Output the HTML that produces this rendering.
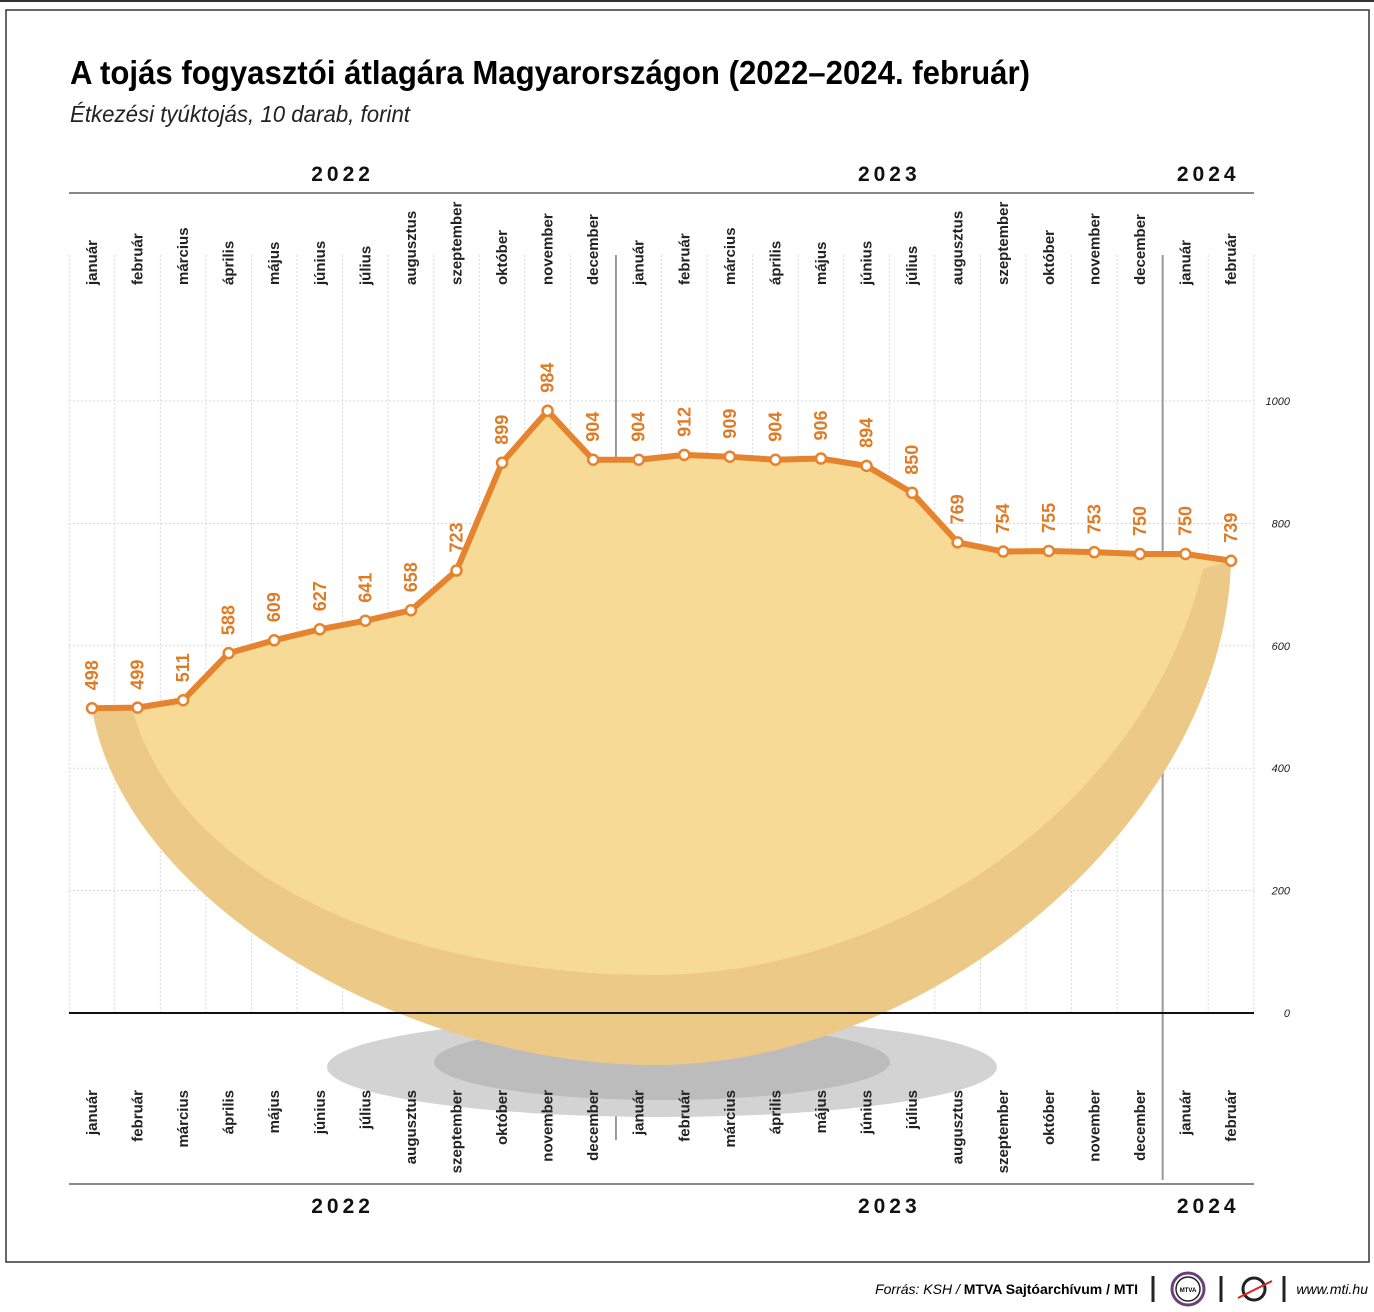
<!DOCTYPE html>
<html><head><meta charset="utf-8"><style>
html,body{margin:0;padding:0;background:#fff;}
svg{display:block;font-family:"Liberation Sans",sans-serif;}
</style></head><body>
<svg id="chart" width="1374" height="1312" viewBox="0 0 1374 1312" xmlns="http://www.w3.org/2000/svg">
<line x1="0" y1="1" x2="1374" y2="1" stroke="#333" stroke-width="2"/>
<rect x="6" y="10" width="1363" height="1252" fill="#fff" stroke="#333" stroke-width="1.5"/>
<text x="70" y="84" font-size="33" font-weight="bold" textLength="960" lengthAdjust="spacingAndGlyphs">A tojás fogyasztói átlagára Magyarországon (2022–2024. február)</text>
<text x="70" y="122" font-size="23" font-style="italic" fill="#222" textLength="340" lengthAdjust="spacingAndGlyphs">Étkezési tyúktojás, 10 darab, forint</text>
<g id="grid"></g>
<g id="shadow"></g>
<g id="area"></g>
<g id="axes"></g>
<g id="series"></g>
<g id="labels"></g>
<g>
<text x="1138" y="1294" font-size="14" text-anchor="end"><tspan font-style="italic">Forrás: KSH / </tspan><tspan font-weight="bold">MTVA Sajtóarchívum / MTI</tspan></text>
<line x1="1153" y1="1276" x2="1153" y2="1302" stroke="#222" stroke-width="3"/>
<circle cx="1188" cy="1289" r="16" fill="none" stroke="#6b3f7a" stroke-width="3"/>
<circle cx="1188" cy="1289" r="12" fill="none" stroke="#222" stroke-width="1.5"/>
<text x="1188" y="1292" font-size="6" font-weight="bold" text-anchor="middle">MTVA</text>
<line x1="1221" y1="1276" x2="1221" y2="1302" stroke="#222" stroke-width="3"/>
<circle cx="1254" cy="1289" r="11" fill="none" stroke="#222" stroke-width="3"/>
<line x1="1238" y1="1298" x2="1272" y2="1281" stroke="#d22" stroke-width="2"/>
<line x1="1284" y1="1276" x2="1284" y2="1302" stroke="#222" stroke-width="3"/>
<text x="1368" y="1294" font-size="14" font-style="italic" text-anchor="end">www.mti.hu</text>
</g>
</svg>
<script>
const months = ["január","február","március","április","május","június","július","augusztus","szeptember","október","november","december","január","február","március","április","május","június","július","augusztus","szeptember","október","november","december","január","február"];
const prices = [498,499,511,588,609,627,641,658,723,899,984,904,904,912,909,904,906,894,850,769,754,755,753,750,750,739];
const yTicks = [0,200,400,600,800,1000];
const years = ["2022","2023","2024"];
const yearStart = [0,12,24];
const yearEnd = [11,23,25];

const NS = "http://www.w3.org/2000/svg";
const x0 = 92, x1 = 1231;
const step = (x1 - x0) / (months.length - 1);
const xs = i => x0 + i * step;
const ys = v => 1013 - v * 0.612;
function mk(tag, attrs, parent, text){
  const e = document.createElementNS(NS, tag);
  for (const k in attrs) e.setAttribute(k, attrs[k]);
  if (text !== undefined) e.textContent = text;
  document.getElementById(parent).appendChild(e);
  return e;
}
// grid
for (let i = 0; i <= months.length; i++){
  const gx = xs(i) - step/2;
  const g = mk("line", {x1:gx, y1:255, x2:gx, y2:1013, stroke:"#d8d8d8", "stroke-width":1, "stroke-dasharray":"2,2"}, "grid");
  
  
}
yTicks.forEach(t => {
  if (t === 0) return;
  const g = mk("line", {x1:69, y1:ys(t), x2:1254, y2:ys(t), stroke:"#d8d8d8", "stroke-width":1, "stroke-dasharray":"2,2"}, "grid");
  
  
});
// year separators
[12,24].forEach((b, k) => {
  const sx = xs(b) - step/2;
  const s = mk("line", {x1:sx, y1:255, x2:sx, y2:(k===0?1140:1180), stroke:"#999", "stroke-width":2}, "grid");
  
  
});
// shadow
const sh1 = mk("ellipse", {cx:662, cy:1067, rx:335, ry:50, fill:"#d3d3d3"}, "shadow");


const sh2 = mk("ellipse", {cx:662, cy:1062, rx:228, ry:38, fill:"#bcbcbc"}, "shadow");


// area
const n = prices.length;
const fx = xs(0), fy = ys(prices[0]), lx = xs(n-1), ly = ys(prices[n-1]);
let pts = prices.map((v,i) => xs(i) + "," + ys(v)).join(" L ");
const outer = mk("path", {d:`M ${pts} C ${lx-6},${ly+260} ${lx-300},1065 655,1065 C 400,1065 ${fx+30},${fy+190} ${fx},${fy} Z`, fill:"#edc988"}, "area");


const ix0 = fx + 40, iy0 = ys(prices[0]), ix1 = lx - 28, iy1 = ly + 8;
const inner = mk("path", {d:`M ${pts} L ${ix1},${iy1} C ${ix1-60},${iy1+250} ${ix1-320},975 655,975 C 420,975 ${ix0+50},${iy0+180} ${ix0},${iy0} Z`, fill:"#f8da97"}, "area");


// axes
const zl = mk("line", {x1:69, y1:ys(0), x2:1254, y2:ys(0), stroke:"#111", "stroke-width":2}, "axes");


yTicks.forEach(t => {
  const tl = mk("text", {x:1290, y:ys(t)+4, "font-size":11, "font-style":"italic", "text-anchor":"end", fill:"#222"}, "axes", String(t));
  
  
});
[193,1184].forEach(yy => {
  const r = mk("line", {x1:69, y1:yy, x2:1254, y2:yy, stroke:"#888", "stroke-width":2}, "axes");
  
  
});
years.forEach((yv, k) => {
  const cx = (xs(yearStart[k]) + xs(yearEnd[k])) / 2;
  [181, 1213].forEach(yy => {
    const t = mk("text", {x:cx, y:yy, "font-size":21, "font-weight":"bold", "letter-spacing":"4", "text-anchor":"middle", fill:"#111"}, "axes", yv);
    
    
  });
});
months.forEach((m, i) => {
  const x = xs(i) + 5;
  const t1 = mk("text", {transform:`translate(${x},285) rotate(-90)`, "font-size":15, "font-weight":"bold", fill:"#222"}, "axes", m);
  
  
  const t2 = mk("text", {transform:`translate(${x},1090) rotate(-90)`, "font-size":15, "font-weight":"bold", "text-anchor":"end", fill:"#222"}, "axes", m);
  
  
});
// series
const line = mk("polyline", {points:prices.map((v,i)=>xs(i)+","+ys(v)).join(" "), fill:"none", stroke:"#e5832e", "stroke-width":6, "stroke-linejoin":"round"}, "series");


prices.forEach((v, i) => {
  const c = mk("circle", {cx:xs(i), cy:ys(v), r:5, fill:"#fff", stroke:"#e5832e", "stroke-width":2.5}, "series");
  
  
  const t = mk("text", {transform:`translate(${xs(i)+6},${ys(v)-18}) rotate(-90)`, "font-size":18, "font-weight":"bold", fill:"#e07b25"}, "labels", String(v));
  
  
});
</script>
</body></html>
